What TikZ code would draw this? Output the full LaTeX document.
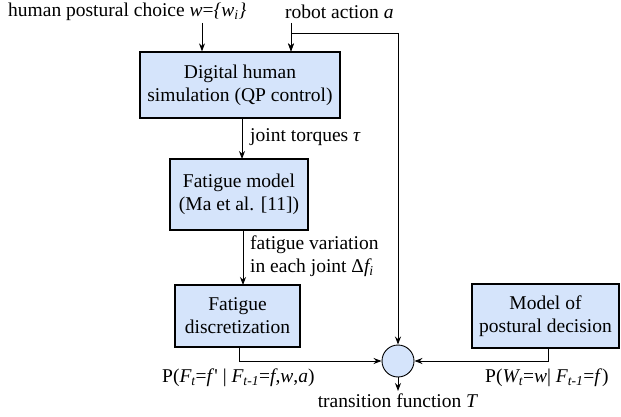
\documentclass[tikz,border=0pt]{standalone}
\usepackage{fontspec}
\setmainfont{Liberation Serif}
\usetikzlibrary{arrows.meta}
\definecolor{boxblue}{RGB}{213,228,251}
\begin{document}
\begin{tikzpicture}[x=1pt,y=-1pt,
  every node/.style={font=\rmfamily\fontsize{19.5}{23}\selectfont},
  blk/.style={draw=black,line width=1.3pt,fill=boxblue,align=center,inner sep=0pt},
  lbl/.style={inner sep=0pt,align=left},
  conn/.style={line width=0.9pt,-{Stealth[length=8pt,width=6pt]}},
  ln/.style={line width=0.9pt}]
\useasboundingbox (0,0) rectangle (621,417);
\node[blk,minimum width=200,minimum height=66] (sim) at (240,85) {Digital human\\simulation (QP control)};
\node[blk,minimum width=138,minimum height=71] (fat) at (239,194.5) {Fatigue model\\(Ma et al. [11])};
\node[blk,minimum width=125,minimum height=62] (disc) at (237.5,316) {Fatigue\\discretization};
\node[blk,minimum width=147,minimum height=64] (dec) at (545.5,316) {Model of\\postural decision};
\node[draw=black,line width=0.9pt,fill=boxblue,circle,minimum size=32,inner sep=0pt] (c) at (398,361) {};
\node[lbl,anchor=west] (hum) at (8,12) {human postural choice \textit{w}=\textit{\{w\textsubscript{i}\}}};
\node[lbl,anchor=west] (rob) at (285,12) {robot action \textit{a}};
\coordinate (hs) at (202,23);
\coordinate (rs) at (291,23);
\coordinate (rc) at (291,33);
\coordinate (rr) at (398,33);
\draw[conn] (hs) -- (hs |- sim.north);
\draw[conn] (rs) -- (rs |- sim.north);
\draw[conn] (rr) -| (rc) -- (rs |- sim.north);
\draw[conn] (rr) -- (c.north);
\draw[conn] (242,118) -- (242,159);
\node[lbl,anchor=west] (jt) at (250,137) {joint torques \textit{τ}};
\draw[conn] (243,230) -- (243,285);
\node[lbl,anchor=west] (fv) at (250,256.5) {fatigue variation\\in each joint Δ\textit{f\textsubscript{i}}};
\draw[conn] (239,347) |- (c.west);
\draw[conn] (548,348) |- (c.east);
\node[lbl,anchor=west] (p1) at (162,378) {P(\textit{F\textsubscript{t}}=\textit{f}\textquotesingle{} | \textit{F\textsubscript{t-1}}=\textit{f},\textit{w},\textit{a})};
\node[lbl,anchor=west] (p2) at (485,378) {P(\textit{W\textsubscript{t}}=\textit{w}| \textit{F\textsubscript{t-1}}=\textit{f})};
\coordinate (te) at (398,391);
\draw[conn] (c.south) -- (te);
\node[lbl,anchor=north] (tf) at (398,394) {transition function \textit{T}};
\end{tikzpicture}
\end{document}
